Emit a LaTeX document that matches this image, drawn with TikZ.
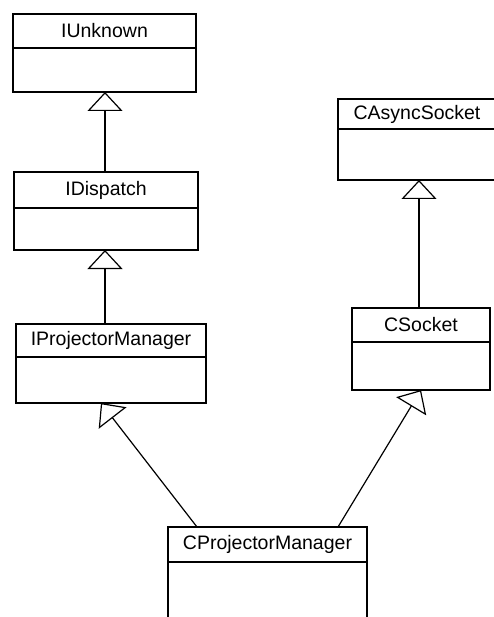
\documentclass[tikz,border=0pt]{standalone}
\usepackage{fontspec}
\setmainfont{Liberation Sans}
\usetikzlibrary{arrows.meta,calc}
\begin{document}
\begin{tikzpicture}[x=1pt,y=-1pt,
  head/.style={draw, line width=1.4pt, inner sep=0pt, outer sep=0pt, anchor=north west, font=\fontsize{19.5}{22}\selectfont},
  body/.style={draw, line width=1.4pt, inner sep=0pt, outer sep=0pt, anchor=north},
  gen/.style={line width=1.2pt, -{Triangle[open, length=19pt, width=35pt, line width=1.2pt]}}]
\useasboundingbox (0,0) rectangle (494,617);
\clip (0,0) rectangle (494,617);
% IUnknown
\node[head, minimum width=183pt, minimum height=34pt] (iuh) at (13,14) {IUnknown};
\node[body, minimum width=183pt, minimum height=44pt] (iub) at (iuh.south) {};
% IDispatch
\node[head, minimum width=184pt, minimum height=36pt] (idh) at (14,172) {IDispatch};
\node[body, minimum width=184pt, minimum height=42pt] (idb) at (idh.south) {};
% IProjectorManager
\node[head, minimum width=190pt, minimum height=33pt] (ipmh) at (16,324) {IProjectorManager};
\node[body, minimum width=190pt, minimum height=46pt] (ipmb) at (ipmh.south) {};
% CAsyncSocket
\node[head, minimum width=158pt, minimum height=30pt] (cash) at (338,99) {CAsyncSocket};
\node[body, minimum width=158pt, minimum height=51pt] (casb) at (cash.south) {};
% CSocket
\node[head, minimum width=138pt, minimum height=34pt] (csh) at (352,308) {CSocket};
\node[body, minimum width=138pt, minimum height=48pt] (csb) at (csh.south) {};
% CProjectorManager
\node[head, minimum width=199pt, minimum height=35pt] (cpmh) at (168,527) {CProjectorManager};
\node[body, minimum width=199pt, minimum height=80pt] (cpmb) at (cpmh.south) {};
% generalisations
\coordinate (a1) at ($(idh.north west)+(91,0)$);
\draw[gen] (a1) -- (a1 |- iub.south);
\coordinate (a2) at ($(ipmh.north west)+(89,0)$);
\draw[gen] (a2) -- (a2 |- idb.south);
\coordinate (a3) at ($(csh.north)+(-2,0)$);
\draw[gen] (a3) -- (a3 |- casb.south);
\coordinate (a4) at ($(cpmh.north west)+(29,0)$);
\coordinate (b4) at ($(ipmb.south west)+(85,0)$);
\draw[gen] (a4) -- (b4);
\coordinate (a5) at ($(cpmh.north west)+(170,0)$);
\draw[gen] (a5) -- (csb.south);
\end{tikzpicture}
\end{document}
